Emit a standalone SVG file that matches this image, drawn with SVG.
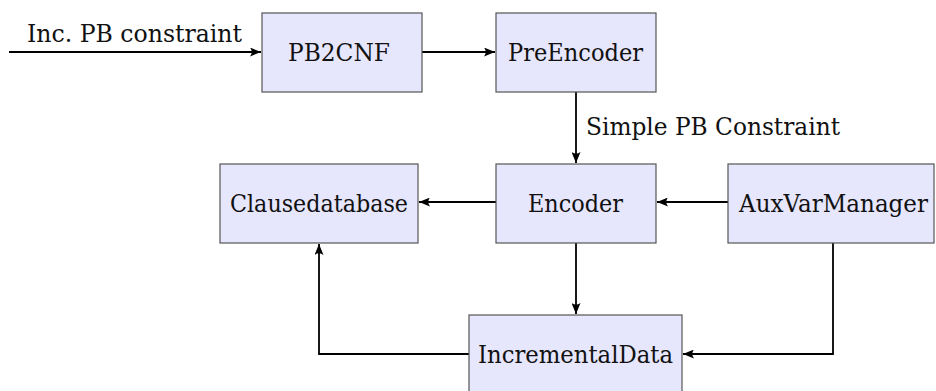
<svg xmlns="http://www.w3.org/2000/svg" width="936" height="391" viewBox="0 0 936 391">
<style>
.box{fill:#e6e6fc;stroke:#555;stroke-width:1.2}
text{font-size:24px;fill:#111}
.t{text-anchor:middle}
.c{fill:none;stroke:#000;stroke-width:1.8}
</style>
<defs>
<marker id="a" viewBox="0 0 11 9" refX="11" refY="4.5" markerWidth="11" markerHeight="9" markerUnits="userSpaceOnUse" orient="auto">
<path d="M0,0 Q3.5,4.5 0,9 L11,4.5 Z" fill="#000"/>
</marker>
</defs>
<g id="connectors">
<path class="c" d="M9,52 H261" marker-end="url(#a)"/>
<path class="c" d="M422,52 H495" marker-end="url(#a)"/>
<path class="c" d="M576,92 V163" marker-end="url(#a)"/>
<path class="c" d="M496,202 H419" marker-end="url(#a)"/>
<path class="c" d="M728,202 H657" marker-end="url(#a)"/>
<path class="c" d="M576,243 V314" marker-end="url(#a)"/>
<path class="c" d="M469,354 H319 V244" marker-end="url(#a)"/>
<path class="c" d="M833,243 V354 H683" marker-end="url(#a)"/>
<text font-family="DejaVu Serif, serif" x="27" y="42" textLength="215" lengthAdjust="spacingAndGlyphs">Inc. PB constraint</text>
<text font-family="DejaVu Serif, serif" x="586" y="135" textLength="254" lengthAdjust="spacingAndGlyphs">Simple PB Constraint</text>
</g>
<g id="pb2cnf"><rect class="box" x="262" y="13" width="160" height="79"/><text font-family="DejaVu Serif, serif" class="t" x="339" y="61" textLength="102" lengthAdjust="spacingAndGlyphs">PB2CNF</text></g>
<g id="preencoder"><rect class="box" x="496" y="13" width="160" height="79"/><text font-family="DejaVu Serif, serif" class="t" x="575.5" y="61" textLength="135" lengthAdjust="spacingAndGlyphs">PreEncoder</text></g>
<g id="encoder"><rect class="box" x="496" y="164" width="160" height="79"/><text font-family="DejaVu Serif, serif" class="t" x="575.5" y="212" textLength="95" lengthAdjust="spacingAndGlyphs">Encoder</text></g>
<g id="clausedatabase"><rect class="box" x="220" y="164" width="198" height="79"/><text font-family="DejaVu Serif, serif" class="t" x="319" y="212" textLength="178" lengthAdjust="spacingAndGlyphs">Clausedatabase</text></g>
<g id="auxvarmanager"><rect class="box" x="728" y="164" width="206" height="79"/><text font-family="DejaVu Serif, serif" class="t" x="833.5" y="212" textLength="189" lengthAdjust="spacingAndGlyphs">AuxVarManager</text></g>
<g id="incrementaldata"><rect class="box" x="469" y="315" width="213" height="79"/><text font-family="DejaVu Serif, serif" class="t" x="575.5" y="363" textLength="195" lengthAdjust="spacingAndGlyphs">IncrementalData</text></g>
</svg>
